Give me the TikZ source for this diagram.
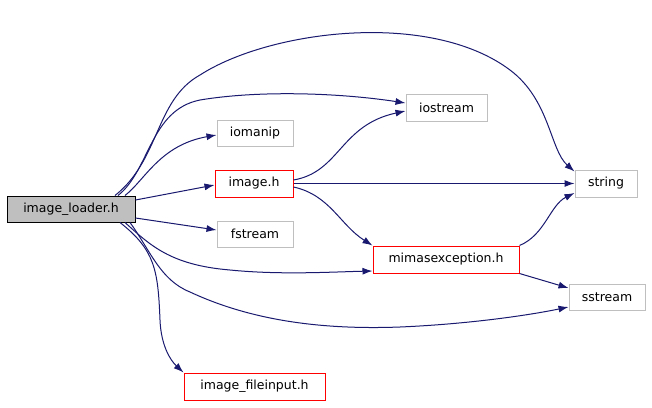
\documentclass[tikz,border=0pt]{standalone}
\usepackage{fontspec}
\setmainfont{DejaVu Sans}
\usetikzlibrary{arrows.meta}
\definecolor{edgeblue}{HTML}{191970}
\definecolor{boxgray}{HTML}{BFBFBF}
\tikzset{
  box/.style={draw=boxgray, line width=1pt, inner sep=0pt, font=\fontsize{12.5}{15}\selectfont, text=black},
  redbox/.style={box, draw=red},
  mainbox/.style={box, draw=black, fill=boxgray},
  edge/.style={draw=edgeblue, line width=1pt, -{Latex[length=10pt,width=7pt]}},
}
\begin{document}
\begin{tikzpicture}[x=1pt,y=-1pt]
\useasboundingbox (0,0) rectangle (652,407);
\fill[white] (0,0) rectangle (652,407);
\node[mainbox, minimum width=128pt, minimum height=26pt] (loader) at (71,209) {image\_loader.h};
\node[box, minimum width=76pt, minimum height=26pt] (iomanip) at (255,133) {iomanip};
\node[redbox, minimum width=78pt, minimum height=27pt] (image) at (254,183.5) {image.h};
\node[box, minimum width=76pt, minimum height=26pt] (fstream) at (255,234) {fstream};
\node[box, minimum width=81pt, minimum height=27pt] (iostream) at (446.5,107.5) {iostream};
\node[redbox, minimum width=146pt, minimum height=27pt] (mimas) at (446,259.5) {mimasexception.h};
\node[box, minimum width=76pt, minimum height=26pt] (sstream) at (607,297) {sstream};
\node[box, minimum width=62pt, minimum height=27pt] (string) at (606,183.5) {string};
\node[redbox, minimum width=141pt, minimum height=27pt] (fileinput) at (254.5,386.5) {image\_fileinput.h};

% loader -> string (top arc)
\draw[edge] ([xshift=44pt]loader.north) .. controls (160,160) and (155,100) .. (200,75)
  .. controls (270,30) and (430,10) .. (510,70)
  .. controls (550,100) and (550,150) .. ([yshift=-2pt]string.north west);
% loader -> iostream
\draw[edge] ([xshift=47pt]loader.north) .. controls (150,170) and (150,110) .. (200,100)
  .. controls (260,90) and (340,93) .. ([yshift=4.5pt]iostream.west);
% loader -> iomanip
\draw[edge] ([xshift=54pt]loader.north) .. controls (145,180) and (160,145) .. ([yshift=-2pt]iomanip.west);
% loader -> image.h
\draw[edge] ([yshift=9pt]loader.east) -- ([yshift=-1.5pt]image.west);
% loader -> fstream
\draw[edge] ([yshift=-9pt]loader.east) -- ([yshift=4pt]fstream.west);
% loader -> mimasexception
\draw[edge] ([xshift=54pt]loader.south) .. controls (150,245) and (170,265) .. (230,270)
  .. controls (280,275) and (330,272) .. ([yshift=-11.5pt]mimas.west);
% loader -> sstream
\draw[edge] ([xshift=59pt]loader.south) .. controls (150,250) and (160,280) .. (190,292)
  .. controls (250,320) and (320,330) .. (400,327)
  .. controls (470,324) and (530,315) .. ([yshift=-10pt]sstream.west);
% loader -> image_fileinput
\draw[edge] ([xshift=49pt]loader.south) .. controls (155,250) and (158,270) .. (160,320)
  .. controls (161,345) and (170,360) .. (fileinput.north west);
% image.h -> iostream
\draw[edge] ([yshift=3.5pt]image.east) .. controls (340,172) and (340,125) .. ([yshift=-3.5pt]iostream.west);
% image.h -> string
\draw[edge] (image.east) -- (string.west);
% image.h -> mimasexception
\draw[edge] ([yshift=-3.5pt]image.east) .. controls (330,195) and (340,225) .. (mimas.north west);
% mimasexception -> string
\draw[edge] (mimas.north east) .. controls (545,235) and (550,205) .. ([yshift=-9.5pt]string.west);
% mimasexception -> sstream
\draw[edge] (mimas.south east) -- ([yshift=9pt]sstream.west);
\end{tikzpicture}
\end{document}
